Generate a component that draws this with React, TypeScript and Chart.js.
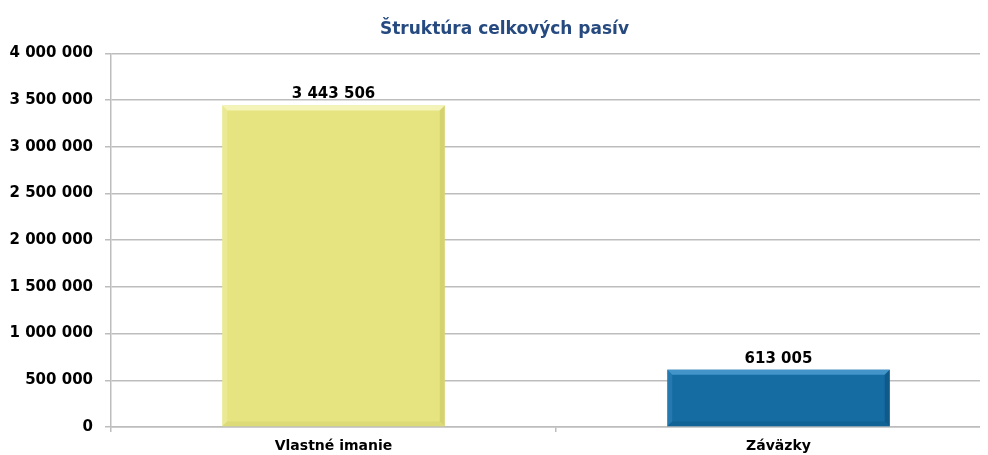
import React, { useEffect, useRef } from "react";
import { Chart, registerables } from "chart.js";

Chart.register(...registerables);

const categories = ["Vlastné imanie", "Záväzky"];
const values = [3443506, 613005];
const barColors = ["#E6E480", "#146CA3"];
const barLight = ["#F4F3B8", "#4394C8"];
const barDark = ["#C9C766", "#0D4E78"];
const titleText = "Štruktúra celkových pasív";
const yMax = 4000000;
const yStep = 500000;

const FONT = "'DejaVu Sans', 'Liberation Sans', Arial, sans-serif";

const fmt = (v: number) =>
  Math.round(v)
    .toString()
    .replace(/\B(?=(\d{3})+(?!\d))/g, " ");

const bevelPlugin = {
  id: "bevel",
  afterDatasetsDraw(chart: any) {
    const ctx = chart.ctx;
    const meta = chart.getDatasetMeta(0);
    meta.data.forEach((bar: any, i: number) => {
      const { x, y, base, width } = bar.getProps(["x", "y", "base", "width"], true);
      const l = x - width / 2;
      const r = x + width / 2;
      const b = 5;
      ctx.save();
      // top highlight
      ctx.fillStyle = barLight[i];
      ctx.beginPath();
      ctx.moveTo(l, y);
      ctx.lineTo(r, y);
      ctx.lineTo(r - b, y + b);
      ctx.lineTo(l + b, y + b);
      ctx.closePath();
      ctx.fill();
      // right dark edge
      ctx.fillStyle = barDark[i];
      ctx.globalAlpha = 0.6;
      ctx.beginPath();
      ctx.moveTo(r, y);
      ctx.lineTo(r, base);
      ctx.lineTo(r - b, base - b);
      ctx.lineTo(r - b, y + b);
      ctx.closePath();
      ctx.fill();
      // bottom dark edge
      ctx.globalAlpha = 0.3;
      ctx.beginPath();
      ctx.moveTo(l, base);
      ctx.lineTo(r, base);
      ctx.lineTo(r - b, base - b);
      ctx.lineTo(l + b, base - b);
      ctx.closePath();
      ctx.fill();
      // left light edge
      ctx.globalAlpha = 0.35;
      ctx.fillStyle = barLight[i];
      ctx.beginPath();
      ctx.moveTo(l, y);
      ctx.lineTo(l + b, y + b);
      ctx.lineTo(l + b, base - b);
      ctx.lineTo(l, base);
      ctx.closePath();
      ctx.fill();
      ctx.restore();

      // value label
      ctx.save();
      ctx.fillStyle = "#000";
      ctx.font = `bold 15px ${FONT}`;
      ctx.textAlign = "center";
      ctx.textBaseline = "middle";
      ctx.fillText(fmt(values[i]), x, y - 11);
      ctx.restore();
    });
  },
};

export default function App() {
  const ref = useRef<HTMLCanvasElement>(null);
  useEffect(() => {
    if (!ref.current) return;
    const chart = new Chart(ref.current, {
      type: "bar",
      data: {
        labels: categories,
        datasets: [
          {
            data: values,
            backgroundColor: barColors,
            borderWidth: 0,
            barPercentage: 0.5,
            categoryPercentage: 1,
          },
        ],
      },
      plugins: [bevelPlugin],
      options: {
        responsive: false,
        animation: false,
        layout: { padding: { left: 0, right: 7, top: 0, bottom: 0 } },
        plugins: {
          legend: { display: false },
          tooltip: { enabled: false },
          title: {
            display: true,
            text: titleText,
            color: "#264A80",
            font: { family: FONT, size: 17, weight: "bold" },
            padding: { top: 11, bottom: 14 },
          },
        },
        scales: {
          x: {
            grid: {
              offset: true,
              drawOnChartArea: false,
              drawTicks: true,
              tickLength: 5,
              color: "#BDBDBD",
              lineWidth: 1.5,
            },
            border: { color: "#BDBDBD", width: 1.5 },
            ticks: {
              color: "#000",
              padding: 6,
              font: { family: FONT, size: 14, weight: "bold" },
            },
            afterFit: (s: any) => {
              s.height = 28;
            },
          },
          y: {
            min: 0,
            max: yMax,
            ticks: {
              stepSize: yStep,
              color: "#000",
              padding: 12,
              font: { family: FONT, size: 15, weight: "bold" },
              callback: (v: any) => fmt(Number(v)),
            },
            grid: { color: "#BDBDBD", lineWidth: 1.5, tickLength: 6 },
            border: { color: "#BDBDBD", width: 1.5 },
            afterFit: (s: any) => {
              s.width = 103;
            },
          },
        },
      },
    });
    return () => chart.destroy();
  }, []);
  return (
    <div style={{ width: 980, height: 447, overflow: "hidden" }}>
      <canvas ref={ref} width={1000} height={447} style={{ display: "block" }} />
    </div>
  );
}
